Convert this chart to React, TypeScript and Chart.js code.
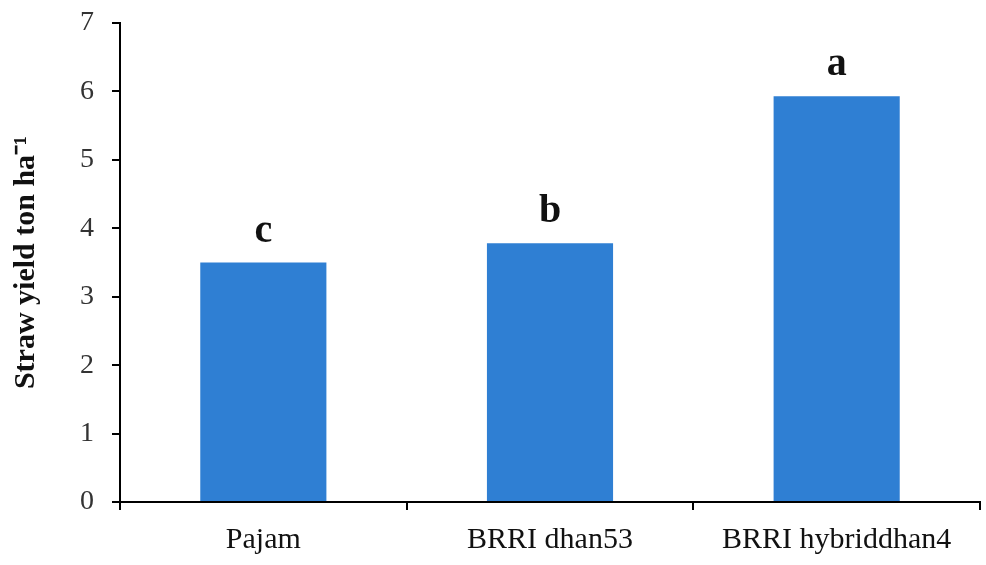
import React, { useEffect, useRef } from "react";
import { Chart, registerables } from "chart.js";

Chart.register(...registerables);

const categories = ["Pajam", "BRRI dhan53", "BRRI hybriddhan4"];
const strawYield = [3.5, 3.78, 5.93];
const letters = ["c", "b", "a"];
const yTicks = [0, 1, 2, 3, 4, 5, 6, 7];
const yTitle = "Straw yield ton ha\u207B\u00B9";

const SERIF = "'Times New Roman', 'Liberation Serif', serif";

const letterPlugin = {
  id: "letters",
  afterDatasetsDraw(chart: any) {
    const ctx = chart.ctx;
    const meta = chart.getDatasetMeta(0);
    ctx.save();
    ctx.font = `bold 40px ${SERIF}`;
    ctx.fillStyle = "#111";
    ctx.textAlign = "center";
    ctx.textBaseline = "alphabetic";
    meta.data.forEach((bar: any, i: number) => {
      ctx.fillText(letters[i], bar.x, bar.y - 21);
    });
    ctx.restore();
  },
};

export default function App() {
  const ref = useRef<HTMLCanvasElement>(null);
  useEffect(() => {
    if (!ref.current) return;
    const chart = new Chart(ref.current, {
      type: "bar",
      data: {
        labels: categories,
        datasets: [
          {
            data: strawYield,
            backgroundColor: "#2f7fd3",
            barPercentage: 0.44,
            categoryPercentage: 1,
          },
        ],
      },
      options: {
        animation: false,
        responsive: false,
        maintainAspectRatio: false,
        layout: { padding: { top: 23, right: 6, left: 8, bottom: 0 } },
        plugins: { legend: { display: false }, tooltip: { enabled: false } },
        scales: {
          x: {
            offset: true,
            grid: {
              offset: true,
              drawOnChartArea: false,
              drawTicks: true,
              tickLength: 8,
              color: "#000",
              lineWidth: 2,
            },
            border: { color: "#000", width: 2 },
            ticks: {
              color: "#111",
              font: { family: SERIF, size: 30 },
              padding: 12,
              maxRotation: 0,
            },
            afterFit(scale: any) {
              scale.height = 63;
              scale.paddingLeft = 0;
              scale.paddingRight = 0;
            },
          },
          y: {
            min: 0,
            max: 7,
            afterBuildTicks(scale: any) {
              scale.ticks = yTicks.map((v) => ({ value: v }));
            },
            grid: {
              drawOnChartArea: false,
              drawTicks: true,
              tickLength: 8,
              color: "#000",
              lineWidth: 2,
            },
            border: { color: "#000", width: 2 },
            ticks: {
              color: "#333",
              font: { family: SERIF, size: 28 },
              padding: 18,
            },
            title: {
              display: true,
              text: yTitle,
              color: "#111",
              font: { family: SERIF, size: 30, weight: "bold" },
              padding: { top: 0, bottom: 4 },
            },
            afterFit(scale: any) {
              scale.width = 112;
              scale.paddingTop = 0;
              scale.paddingBottom = 0;
            },
          },
        },
      },
      plugins: [letterPlugin],
    } as any);
    return () => chart.destroy();
  }, []);
  return (
    <div style={{ position: "absolute", left: 0, top: 0, width: 986, height: 565, background: "#fff" }}>
      <canvas ref={ref} width={986} height={565} style={{ display: "block" }} />
    </div>
  );
}
